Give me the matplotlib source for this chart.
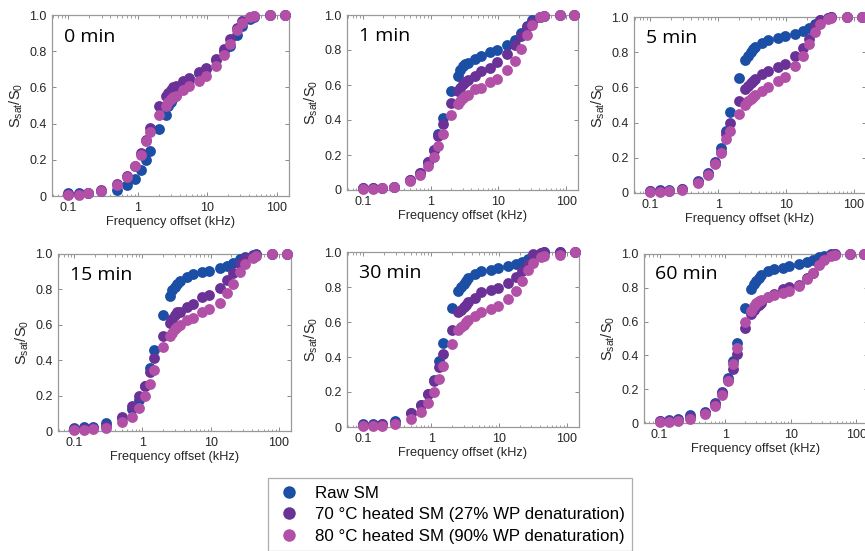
import matplotlib
matplotlib.use("Agg")
import matplotlib.pyplot as plt
from matplotlib.lines import Line2D
from matplotlib.ticker import FixedLocator, FixedFormatter, LogLocator, NullFormatter

plt.rcParams['font.family'] = ['Liberation Sans', 'DejaVu Sans']
plt.rcParams['mathtext.default'] = 'regular'

freq = [0.1, 0.14, 0.19, 0.29, 0.5, 0.7, 0.9, 1.1, 1.3, 1.5, 2.0, 2.5, 2.75, 3.0, 3.25,
        3.5, 4.5, 5.5, 7.5, 9.5, 13.5, 17.5, 21.5, 26.5, 31.5, 41.5, 46.5, 80, 130]

panel_titles = ["0 min", "1 min", "5 min", "15 min", "30 min", "60 min"]
series_labels = ["Raw SM",
                 "70 \u00b0C heated SM (27% WP denaturation)",
                 "80 \u00b0C heated SM (90% WP denaturation)"]

raw_0 = [0.018, 0.015, 0.015, 0.025, 0.035, 0.06, 0.095, 0.145, 0.2, 0.25, 0.37, 0.45, 0.5, 0.52,
         0.54, 0.56, 0.62, 0.64, 0.68, 0.70, 0.75, 0.80, 0.83, 0.89, 0.94, 0.98, 0.99, 1.0, 1.0]
h70_0 = [0.01, 0.01, 0.015, 0.035, 0.065, 0.11, 0.165, 0.235, 0.31, 0.375, 0.50, 0.55, 0.57, 0.585,
         0.60, 0.61, 0.635, 0.65, 0.685, 0.705, 0.755, 0.81, 0.87, 0.93, 0.965, 0.99, 0.995, 1.0, 1.0]
h80_0 = [0.005, 0.005, 0.015, 0.03, 0.06, 0.105, 0.165, 0.225, 0.305, 0.355, 0.45, 0.50, 0.52, 0.535,
         0.545, 0.555, 0.585, 0.605, 0.635, 0.665, 0.72, 0.78, 0.84, 0.915, 0.955, 0.99, 0.995, 1.0, 1.0]

raw_1 = [0.01, 0.01, 0.01, 0.02, 0.06, 0.10, 0.16, 0.23, 0.32, 0.41, 0.565, 0.65, 0.685, 0.71, 0.72,
         0.725, 0.75, 0.765, 0.79, 0.80, 0.83, 0.86, 0.90, 0.935, 0.97, 0.99, 0.995, 1.0, 1.0]
h70_1 = [0.01, 0.01, 0.01, 0.02, 0.055, 0.10, 0.16, 0.23, 0.31, 0.38, 0.50, 0.565, 0.585, 0.605, 0.62,
         0.63, 0.65, 0.68, 0.70, 0.73, 0.78, 0.83, 0.88, 0.93, 0.96, 0.99, 0.995, 1.0, 1.0]
h80_1 = [0.005, 0.005, 0.01, 0.015, 0.05, 0.085, 0.14, 0.19, 0.25, 0.32, 0.43, 0.49, 0.51, 0.525,
         0.535, 0.545, 0.575, 0.585, 0.615, 0.635, 0.685, 0.74, 0.805, 0.885, 0.945, 0.99, 0.995, 1.0, 1.0]

raw_5 = [0.01, 0.015, 0.015, 0.025, 0.07, 0.115, 0.175, 0.255, 0.355, 0.46, 0.655, 0.755, 0.78, 0.80,
         0.82, 0.83, 0.855, 0.87, 0.88, 0.89, 0.905, 0.92, 0.935, 0.96, 0.985, 0.995, 1.0, 1.0, 1.0]
h70_5 = [0.01, 0.01, 0.01, 0.02, 0.065, 0.11, 0.17, 0.235, 0.335, 0.395, 0.525, 0.59, 0.61, 0.625,
         0.635, 0.645, 0.675, 0.695, 0.715, 0.735, 0.78, 0.825, 0.875, 0.945, 0.985, 0.995, 1.0, 1.0, 1.0]
h80_5 = [0.005, 0.005, 0.01, 0.015, 0.055, 0.10, 0.165, 0.225, 0.305, 0.35, 0.45, 0.50, 0.525, 0.535,
         0.545, 0.555, 0.58, 0.60, 0.635, 0.66, 0.72, 0.78, 0.845, 0.915, 0.96, 0.99, 0.995, 1.0, 1.0]

raw_15 = [0.015, 0.02, 0.025, 0.045, 0.075, 0.125, 0.175, 0.255, 0.355, 0.46, 0.655, 0.76, 0.795, 0.815,
          0.83, 0.845, 0.87, 0.885, 0.90, 0.905, 0.92, 0.935, 0.95, 0.97, 0.985, 0.995, 1.0, 1.0, 1.0]
h70_15 = [0.01, 0.01, 0.015, 0.03, 0.08, 0.14, 0.20, 0.255, 0.335, 0.415, 0.535, 0.61, 0.635, 0.655,
          0.67, 0.675, 0.70, 0.72, 0.755, 0.77, 0.81, 0.855, 0.895, 0.945, 0.98, 0.99, 0.995, 1.0, 1.0]
h80_15 = [0.005, 0.005, 0.01, 0.015, 0.05, 0.08, 0.13, 0.20, 0.265, 0.345, 0.475, 0.535, 0.555, 0.575,
          0.585, 0.60, 0.625, 0.64, 0.67, 0.69, 0.725, 0.78, 0.83, 0.90, 0.945, 0.98, 0.99, 1.0, 1.0]

raw_30 = [0.015, 0.02, 0.02, 0.035, 0.08, 0.125, 0.19, 0.27, 0.375, 0.48, 0.68, 0.78, 0.80, 0.82,
          0.835, 0.85, 0.875, 0.89, 0.90, 0.91, 0.92, 0.93, 0.945, 0.96, 0.98, 0.995, 1.0, 1.0, 1.0]
h70_30 = [0.01, 0.01, 0.015, 0.025, 0.08, 0.125, 0.19, 0.265, 0.345, 0.42, 0.555, 0.655, 0.67, 0.685,
          0.70, 0.715, 0.74, 0.77, 0.785, 0.795, 0.825, 0.86, 0.89, 0.93, 0.99, 0.995, 1.0, 1.0, 1.0]
h80_30 = [0.005, 0.005, 0.005, 0.015, 0.045, 0.085, 0.135, 0.20, 0.275, 0.35, 0.475, 0.555, 0.57, 0.585,
          0.60, 0.61, 0.635, 0.655, 0.675, 0.69, 0.73, 0.78, 0.835, 0.90, 0.94, 0.97, 0.98, 0.985, 1.0]

raw_60 = [0.01, 0.02, 0.025, 0.045, 0.065, 0.12, 0.185, 0.265, 0.365, 0.475, 0.68, 0.79, 0.82, 0.84,
          0.86, 0.875, 0.90, 0.91, 0.92, 0.93, 0.94, 0.955, 0.965, 0.98, 0.99, 1.0, 1.0, 1.0, 1.0]
h70_60 = [0.01, 0.01, 0.015, 0.035, 0.06, 0.11, 0.175, 0.255, 0.32, 0.41, 0.565, 0.645, 0.67, 0.685,
          0.70, 0.71, 0.745, 0.765, 0.795, 0.805, 0.815, 0.86, 0.89, 0.94, 0.97, 0.995, 1.0, 1.0, 1.0]
h80_60 = [0.005, 0.005, 0.01, 0.025, 0.055, 0.10, 0.165, 0.25, 0.35, 0.445, 0.60, 0.665, 0.69, 0.71,
          0.72, 0.73, 0.745, 0.76, 0.77, 0.78, 0.81, 0.85, 0.89, 0.935, 0.965, 0.99, 0.995, 1.0, 1.0]

panels = [(raw_0, h70_0, h80_0), (raw_1, h70_1, h80_1), (raw_5, h70_5, h80_5),
          (raw_15, h70_15, h80_15), (raw_30, h70_30, h80_30), (raw_60, h70_60, h80_60)]

colors = ['#1b4ea5', '#6a3197', '#b24fa7']

W, H = 865, 551
fig = plt.figure(figsize=(W / 100, H / 100), dpi=100)

# axes boxes in pixels: left, right, top, bottom
boxes = [(52, 289, 15, 196), (347, 578, 15, 190), (634, 866, 17, 193),
         (58, 291, 254, 431), (347, 579, 252, 427), (644, 868, 254, 423)]

yticks = [0, 0.2, 0.4, 0.6, 0.8, 1.0]
ytick_labels = ['0', '0.2', '0.4', '0.6', '0.8', '1.0']
xticks = [0.1, 1, 10, 100]
xtick_labels = ['0.1', '1', '10', '100']

for (l, r, t, b), title, data in zip(boxes, panel_titles, panels):
    ax = fig.add_axes([l / W, 1 - b / H, (r - l) / W, (b - t) / H])
    for ys, c in zip(data, colors):
        ax.plot(freq, ys, 'o', color=c, markersize=7.8, markeredgewidth=0, zorder=3, clip_on=False)
    ax.set_xscale('log')
    ax.set_xlim(0.058, 150)
    ax.set_ylim(0, 1.0)
    ax.xaxis.set_major_locator(FixedLocator(xticks))
    ax.xaxis.set_major_formatter(FixedFormatter(xtick_labels))
    ax.xaxis.set_minor_locator(LogLocator(base=10, subs=range(2, 10)))
    ax.xaxis.set_minor_formatter(NullFormatter())
    ax.yaxis.set_major_locator(FixedLocator(yticks))
    ax.yaxis.set_major_formatter(FixedFormatter(ytick_labels))
    ax.tick_params(which='both', direction='in', top=True, right=True,
                   color='#777777', labelsize=9, labelcolor='#262626')
    ax.tick_params(which='major', length=3, width=0.6, pad=4)
    ax.tick_params(which='minor', length=1.8, width=0.5)
    for s in ax.spines.values():
        s.set_color('#999999')
        s.set_linewidth(0.9)
    ax.set_xlabel('Frequency offset (kHz)', fontsize=9.2, color='#262626', labelpad=2)
    ax.set_ylabel('S$_{sat}$/S$_0$', fontsize=10.5, color='#262626', labelpad=3)
    ax.text(0.05, 0.88, title, transform=ax.transAxes, fontsize=14,
            family=['Open Sans', 'DejaVu Sans'], color='black', va='center', ha='left')

handles = [Line2D([], [], marker='o', linestyle='none', color=c, markersize=9, markeredgewidth=0)
           for c in colors]
leg = fig.legend(handles, series_labels, loc='upper left',
                 bbox_to_anchor=(268 / W, 1 - 478 / H), fontsize=12.2, frameon=True,
                 fancybox=False, edgecolor='#999999', handletextpad=0.7,
                 labelspacing=0.38, borderpad=0.45, handlelength=1.6, borderaxespad=0)
leg.get_frame().set_linewidth(0.9)

fig.savefig('out.png', dpi=100)
